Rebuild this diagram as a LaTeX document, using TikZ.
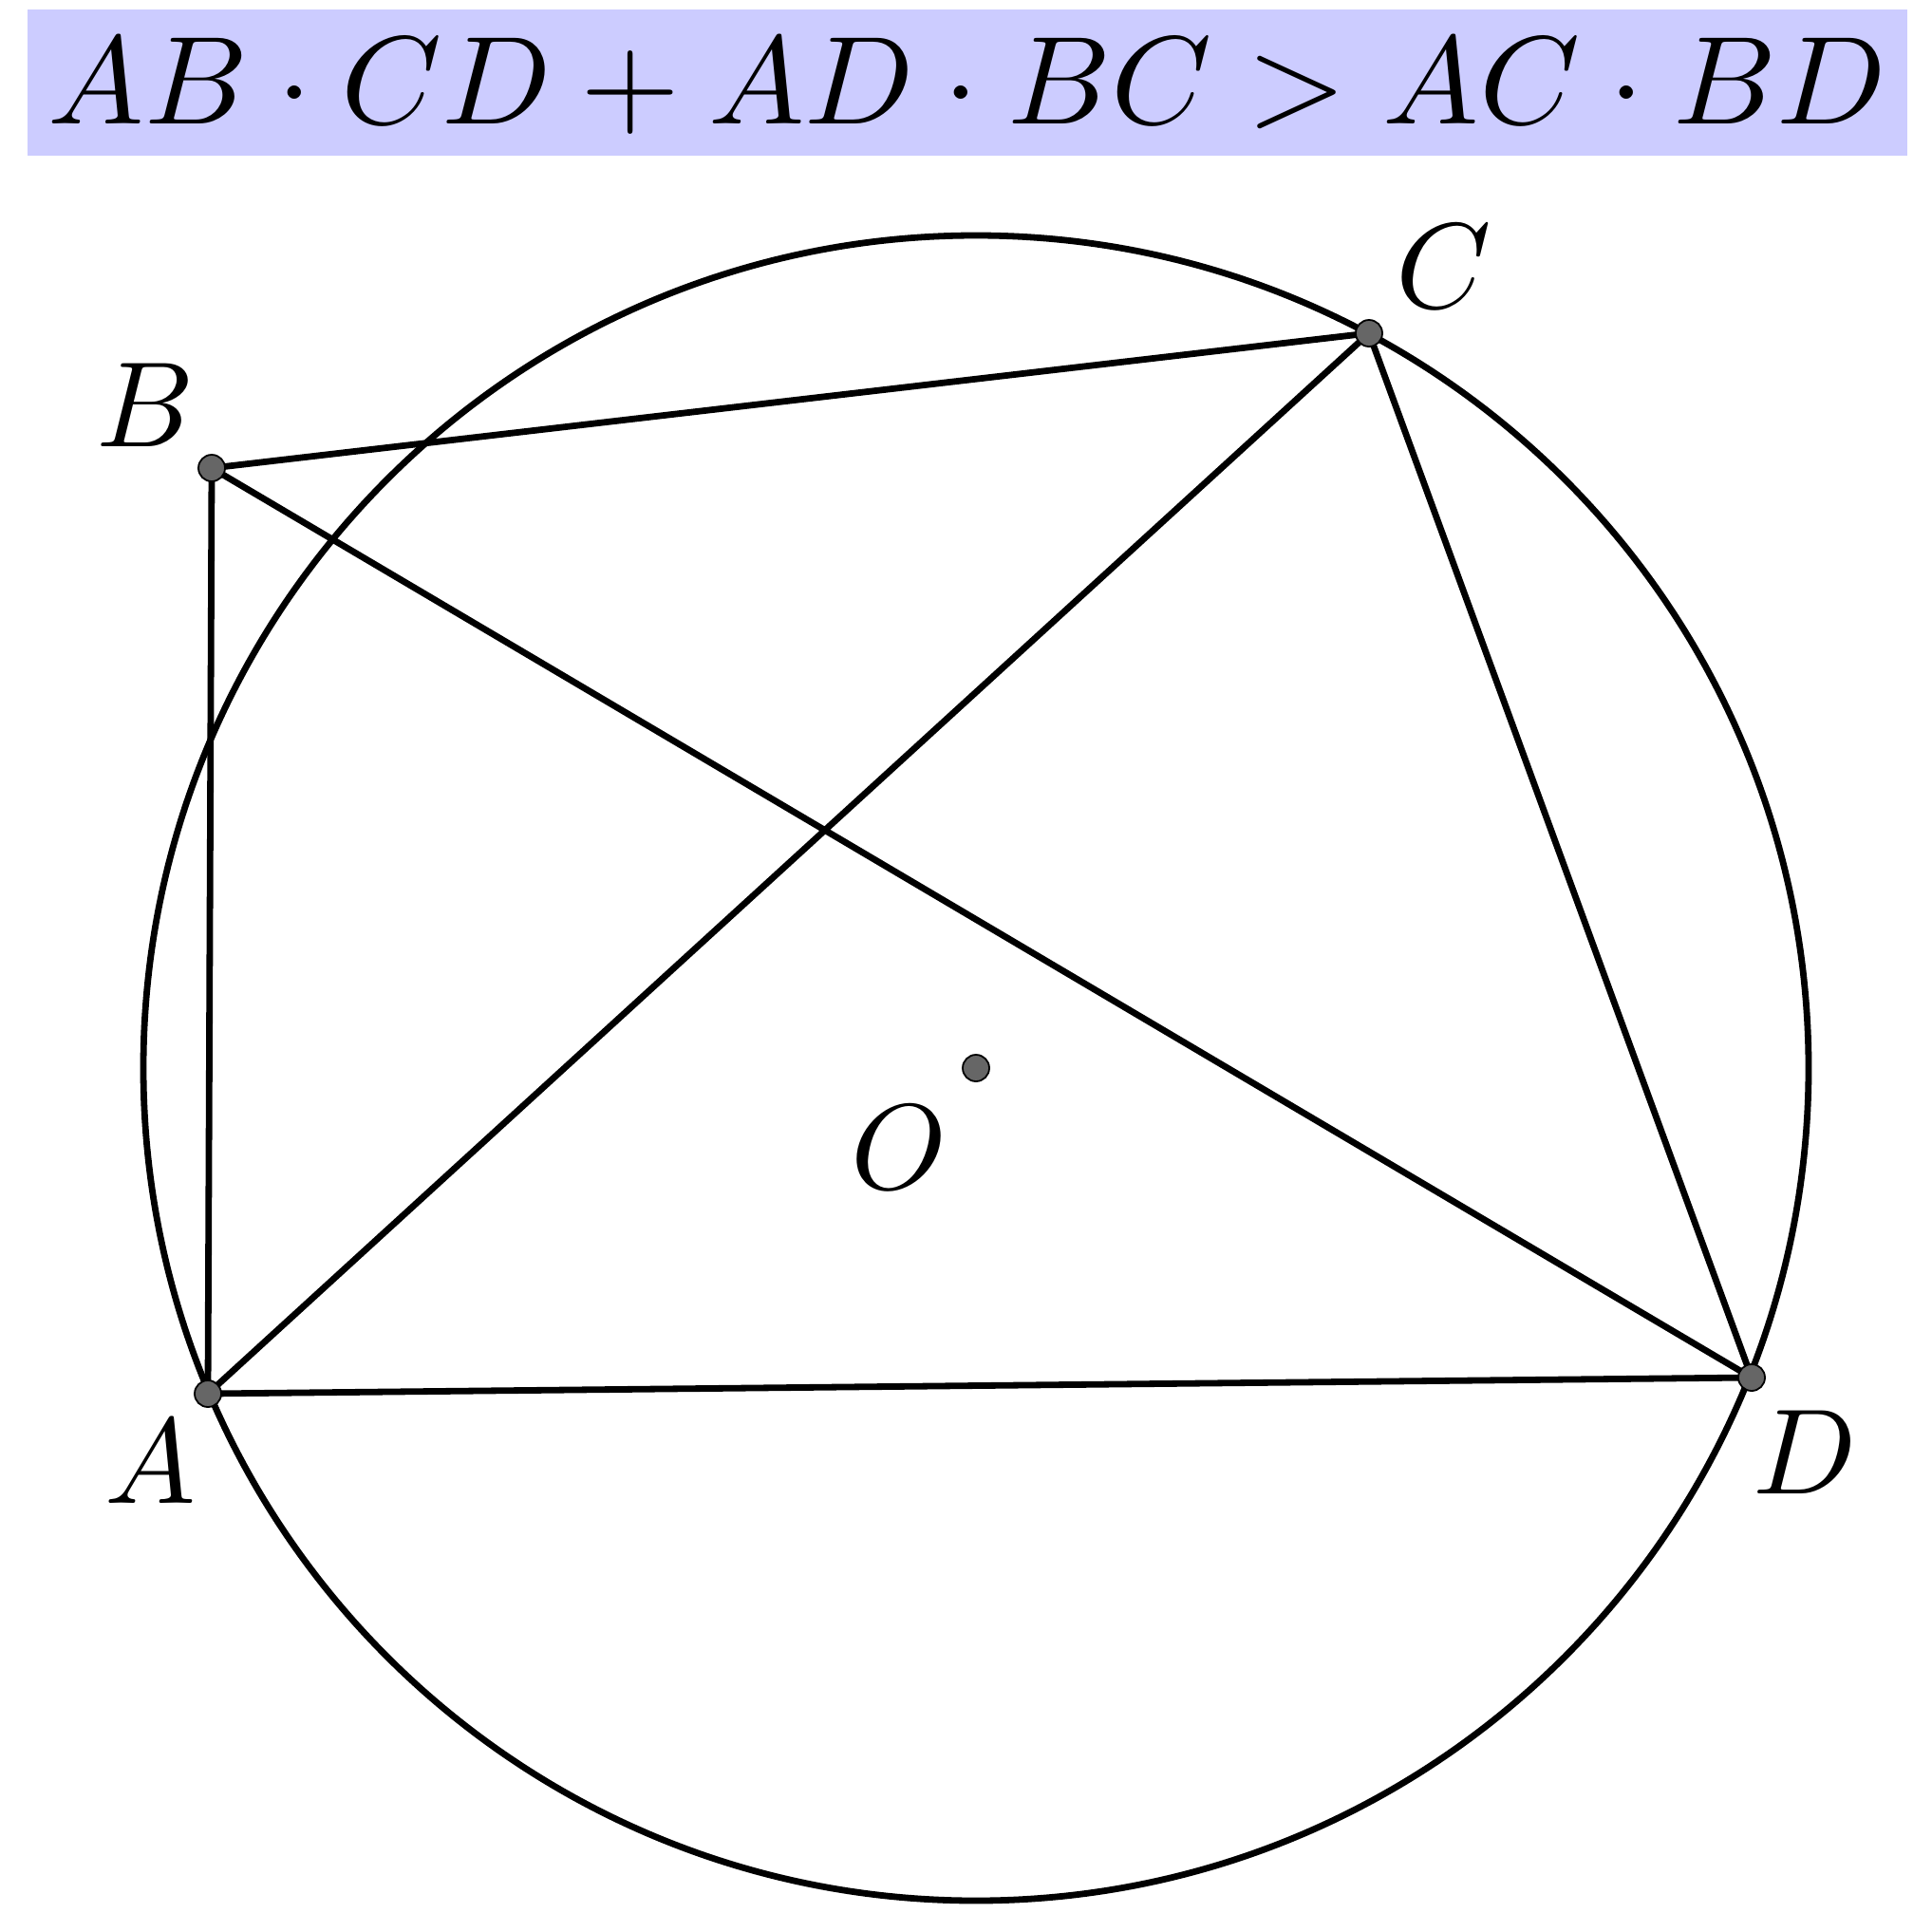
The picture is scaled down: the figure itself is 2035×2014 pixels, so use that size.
\documentclass[tikz,border=0pt]{standalone}
\usepackage{graphicx}
\begin{document}
\begin{tikzpicture}[x=0.5pt,y=-0.5pt,
  seg/.style={line width=3.4pt,line cap=round,line join=round},
  ptdot/.style={circle,fill=black!60,draw=black,line width=0.9pt,inner sep=0pt,minimum size=14pt},
  lbl/.style={anchor=base,inner sep=0pt},
  ttl/.style={anchor=base,inner sep=0pt}]
\useasboundingbox (0,0) rectangle (2035,2014);
\fill[fill={rgb,255:red,204;green,204;blue,255}] (29,10) rectangle (2009,164);
\node[ttl] (title) at (1019,130) {\scalebox{6.76}[6.6]{$AB\cdot CD+AD\cdot BC>AC\cdot BD$}};
\coordinate (O) at (1028,1125);
\coordinate (A) at (219,1468);
\coordinate (B) at (223,493);
\coordinate (C) at (1442,351);
\coordinate (D) at (1845,1451);
\draw[seg] (O) circle[radius=877];
\draw[seg] (A) -- (B) -- (C) -- (D) -- cycle;
\draw[seg] (A) -- (C);
\draw[seg] (B) -- (D);
\foreach \p in {A,B,C,D,O} \node[ptdot] (dot\p) at (\p) {};
\node[lbl] (lA) at (158,1583) {\scalebox{6.4}{$A$}};
\node[lbl] (lB) at (153,470) {\scalebox{6.4}{$B$}};
\node[lbl] (lC) at (1521,324) {\scalebox{6.4}{$C$}};
\node[lbl] (lD) at (1901,1573) {\scalebox{6.4}{$D$}};
\node[lbl] (lO) at (947,1252) {\scalebox{6.4}{$O$}};
\end{tikzpicture}
\end{document}
